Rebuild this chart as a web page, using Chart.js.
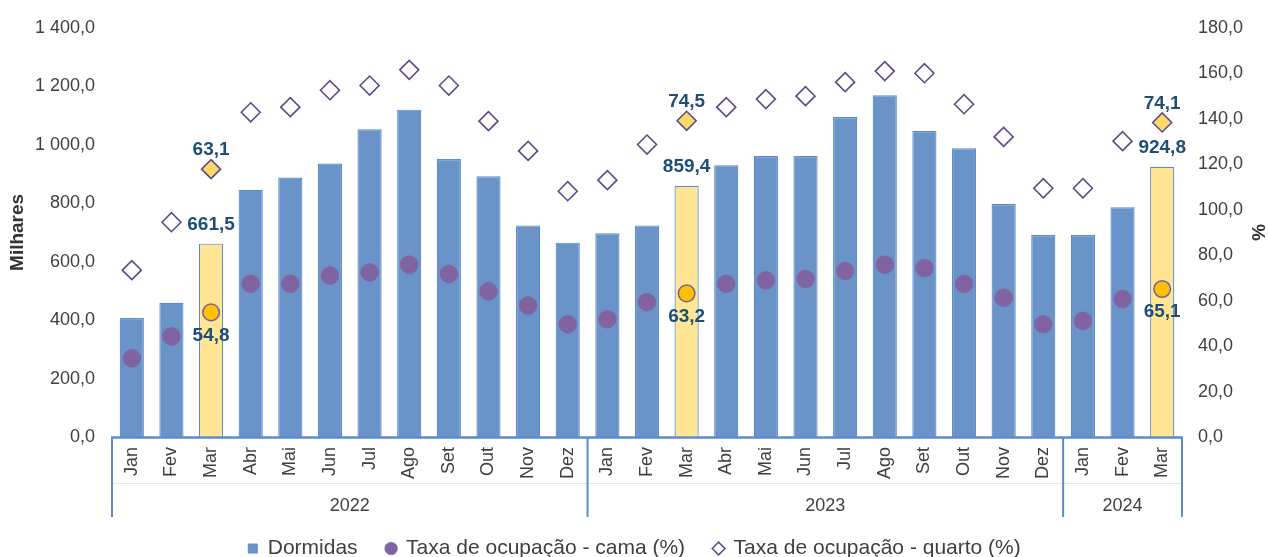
<!DOCTYPE html>
<html><head><meta charset="utf-8">
<script src="https://cdn.jsdelivr.net/npm/chart.js@4.4.1/dist/chart.umd.min.js"></script>
<style>html,body{margin:0;padding:0;background:#fff;} canvas{display:block;}</style>
</head><body>
<canvas id="c" width="1269" height="557"></canvas>
<script>
const months = ['Jan','Fev','Mar','Abr','Mai','Jun','Jul','Ago','Set','Out','Nov','Dez','Jan','Fev','Mar','Abr','Mai','Jun','Jul','Ago','Set','Out','Nov','Dez','Jan','Fev','Mar'];
const years = ['2022','2023','2024'];
const monthsPerYear = [12,12,3];
const dormidas = [406.8,459.0,661.5,846.0,888.0,935.5,1053.0,1120.0,951.0,892.0,724.0,665.0,697.0,724.0,859.4,930.0,961.5,961.5,1095.0,1169.0,1046.5,987.5,797.0,691.0,691.0,786.0,924.8];
const taxaCama = [34.6,44.3,54.8,67.4,67.4,71.0,72.4,75.8,71.7,64.1,57.8,49.6,51.8,59.3,63.2,67.4,68.9,69.5,73.0,75.8,74.3,67.4,61.3,49.6,51.1,60.7,65.1];
const taxaQuarto = [39.3,50.6,63.1,76.5,77.7,81.7,82.8,86.5,82.8,74.4,67.4,57.9,60.5,68.9,74.5,77.7,79.6,80.3,83.6,86.2,85.7,78.4,70.7,58.6,58.6,69.7,74.1];
const highlighted = [2,14,26];
const leftAxis = {min:0, max:1400, step:200, title:'Milhares'};
const rightAxis = {min:0, max:180, step:20, title:'%'};
const quartoAxis = {min:0, max:96.4};

const FONT = '"Liberation Sans", Arial, sans-serif';
Chart.defaults.font.family = FONT;
const TXT = '#404040';
const BLUE = '#6A93C8', BLUE_EDGE = '#5B8BD0', YEL = '#FFE594';
const PURPLE = '#8064A2', ORANGE = '#FFC000', DIA = '#5F4A8B', DIA_HL = '#FFD966';
const LABEL = '#1F4E79';

function fmt(v){
  const s = v.toFixed(1).split('.');
  const i = s[0].replace(/\B(?=(\d{3})+(?!\d))/g, ' ');
  return i + ',' + s[1];
}
const isHL = i => highlighted.includes(i);

const labelsPlugin = {
  id:'hlLabels',
  afterDatasetsDraw(chart){
    const ctx = chart.ctx;
    ctx.save();
    ctx.font = 'bold 19px ' + FONT;
    ctx.fillStyle = LABEL;
    ctx.textAlign = 'center';
    ctx.textBaseline = 'middle';
    highlighted.forEach(i => {
      const b = chart.getDatasetMeta(0).data[i];
      ctx.fillText(fmt(dormidas[i]), b.x, b.y - 19);
      const c = chart.getDatasetMeta(1).data[i];
      ctx.fillText(fmt(taxaCama[i]), c.x, c.y + 23);
      const q = chart.getDatasetMeta(2).data[i];
      ctx.fillText(fmt(taxaQuarto[i]), q.x, q.y - 19);
    });
    ctx.restore();
  }
};

const axisPlugin = {
  id:'groupAxis',
  afterDraw(chart){
    const ctx = chart.ctx, a = chart.chartArea, xs = chart.scales.x;
    const step = (a.right - a.left) / months.length;
    const edge = idx => xs.getPixelForValue(0) - step/2 + idx*step;
    ctx.save();
    ctx.strokeStyle = '#E6E6E6'; ctx.lineWidth = 1;
    ctx.beginPath(); ctx.moveTo(a.left, 483.5); ctx.lineTo(a.right, 483.5); ctx.stroke();
    ctx.strokeStyle = BLUE_EDGE; ctx.lineWidth = 2.5;
    ctx.beginPath(); ctx.moveTo(a.left - 1, a.bottom + 0.5); ctx.lineTo(a.right + 1, a.bottom + 0.5); ctx.stroke();
    ctx.lineWidth = 2;
    let idx = 0;
    const bounds = [0];
    monthsPerYear.forEach(n => { idx += n; bounds.push(idx); });
    bounds.forEach(b => {
      const x = edge(b);
      ctx.beginPath(); ctx.moveTo(x, a.bottom); ctx.lineTo(x, 517); ctx.stroke();
    });
    ctx.fillStyle = TXT; ctx.font = '18px ' + FONT;
    ctx.textAlign = 'center'; ctx.textBaseline = 'middle';
    years.forEach((y, k) => {
      const x = (edge(bounds[k]) + edge(bounds[k+1])) / 2;
      ctx.fillText(y, x, 506);
    });
    ctx.restore();
  }
};

const legendStyles = [
  {pointStyle:'rect', fillStyle:BLUE, strokeStyle:BLUE_EDGE, lineWidth:1},
  {pointStyle:'circle', fillStyle:PURPLE, strokeStyle:PURPLE, lineWidth:0.5},
  {pointStyle:'rectRot', fillStyle:'#FFFFFF', strokeStyle:DIA, lineWidth:1.5}
];

new Chart(document.getElementById('c'), {
  data: {
    labels: months,
    datasets: [
      {
        type:'bar', label:'Dormidas', data: dormidas, yAxisID:'y', order:3,
        backgroundColor: dormidas.map((v,i)=> isHL(i) ? YEL : BLUE),
        borderColor: BLUE_EDGE, borderWidth: 1.2,
        barPercentage: 0.61, categoryPercentage: 1.0
      },
      {
        type:'line', label:'Taxa de ocupação - cama (%)', data: taxaCama, yAxisID:'y1', order:1,
        showLine:false, pointStyle:'circle',
        pointRadius: taxaCama.map((v,i)=> isHL(i) ? 8.3 : 9),
        pointBackgroundColor: taxaCama.map((v,i)=> isHL(i) ? ORANGE : PURPLE),
        pointBorderColor: taxaCama.map((v,i)=> isHL(i) ? '#7A5FA0' : PURPLE),
        pointBorderWidth: taxaCama.map((v,i)=> isHL(i) ? 1.5 : 0.5)
      },
      {
        type:'line', label:'Taxa de ocupação - quarto (%)', data: taxaQuarto, yAxisID:'y2', order:2,
        showLine:false, pointStyle:'rectRot',
        pointRadius: 9.5,
        pointBackgroundColor: taxaQuarto.map((v,i)=> isHL(i) ? DIA_HL : '#FFFFFF'),
        pointBorderColor: DIA, pointBorderWidth: 1.6
      }
    ]
  },
  options: {
    responsive:false, devicePixelRatio:1, animation:false, events:[],
    layout:{ padding:{ top:25, bottom:-12, left:0, right:0 } },
    scales: {
      x: {
        grid:{ display:false, drawTicks:false }, border:{ display:false },
        ticks:{ autoSkip:false, minRotation:90, maxRotation:90, padding:10, color:TXT, font:{ size:18 } },
        afterFit(s){ s.height = 72; }
      },
      y: {
        position:'left', min:leftAxis.min, max:leftAxis.max,
        grid:{ display:false, drawTicks:false }, border:{ display:false },
        ticks:{ stepSize:leftAxis.step, padding:17, color:TXT, font:{ size:18 }, callback:v=>fmt(v) },
        title:{ display:true, text:leftAxis.title, color:'#333333', font:{ size:19, weight:'bold' }, padding:{ top:6, bottom:0 } },
        afterFit(s){ s.width = 112; }
      },
      y1: {
        position:'right', min:rightAxis.min, max:rightAxis.max,
        grid:{ display:false, drawTicks:false }, border:{ display:false },
        ticks:{ stepSize:rightAxis.step, padding:16, color:TXT, font:{ size:18 }, callback:v=>fmt(v) },
        title:{ display:true, text:rightAxis.title, color:'#333333', font:{ size:19, weight:'bold' }, padding:{ top:0, bottom:0 } },
        afterFit(s){ s.width = 87; }
      },
      y2: { display:false, min:quartoAxis.min, max:quartoAxis.max }
    },
    plugins: {
      tooltip:{ enabled:false },
      legend: {
        position:'bottom',
        labels: {
          usePointStyle:true, boxWidth:9, boxHeight:9, padding:29, color:TXT, font:{ size:21 },
          generateLabels(chart){
            const items = Chart.defaults.plugins.legend.labels.generateLabels(chart);
            items.sort((p,q)=> p.datasetIndex - q.datasetIndex);
            items.forEach(it => { Object.assign(it, legendStyles[it.datasetIndex]); it.fontColor = TXT; });
            return items;
          }
        }
      }
    }
  },
  plugins:[labelsPlugin, axisPlugin]
});
</script>
</body></html>
